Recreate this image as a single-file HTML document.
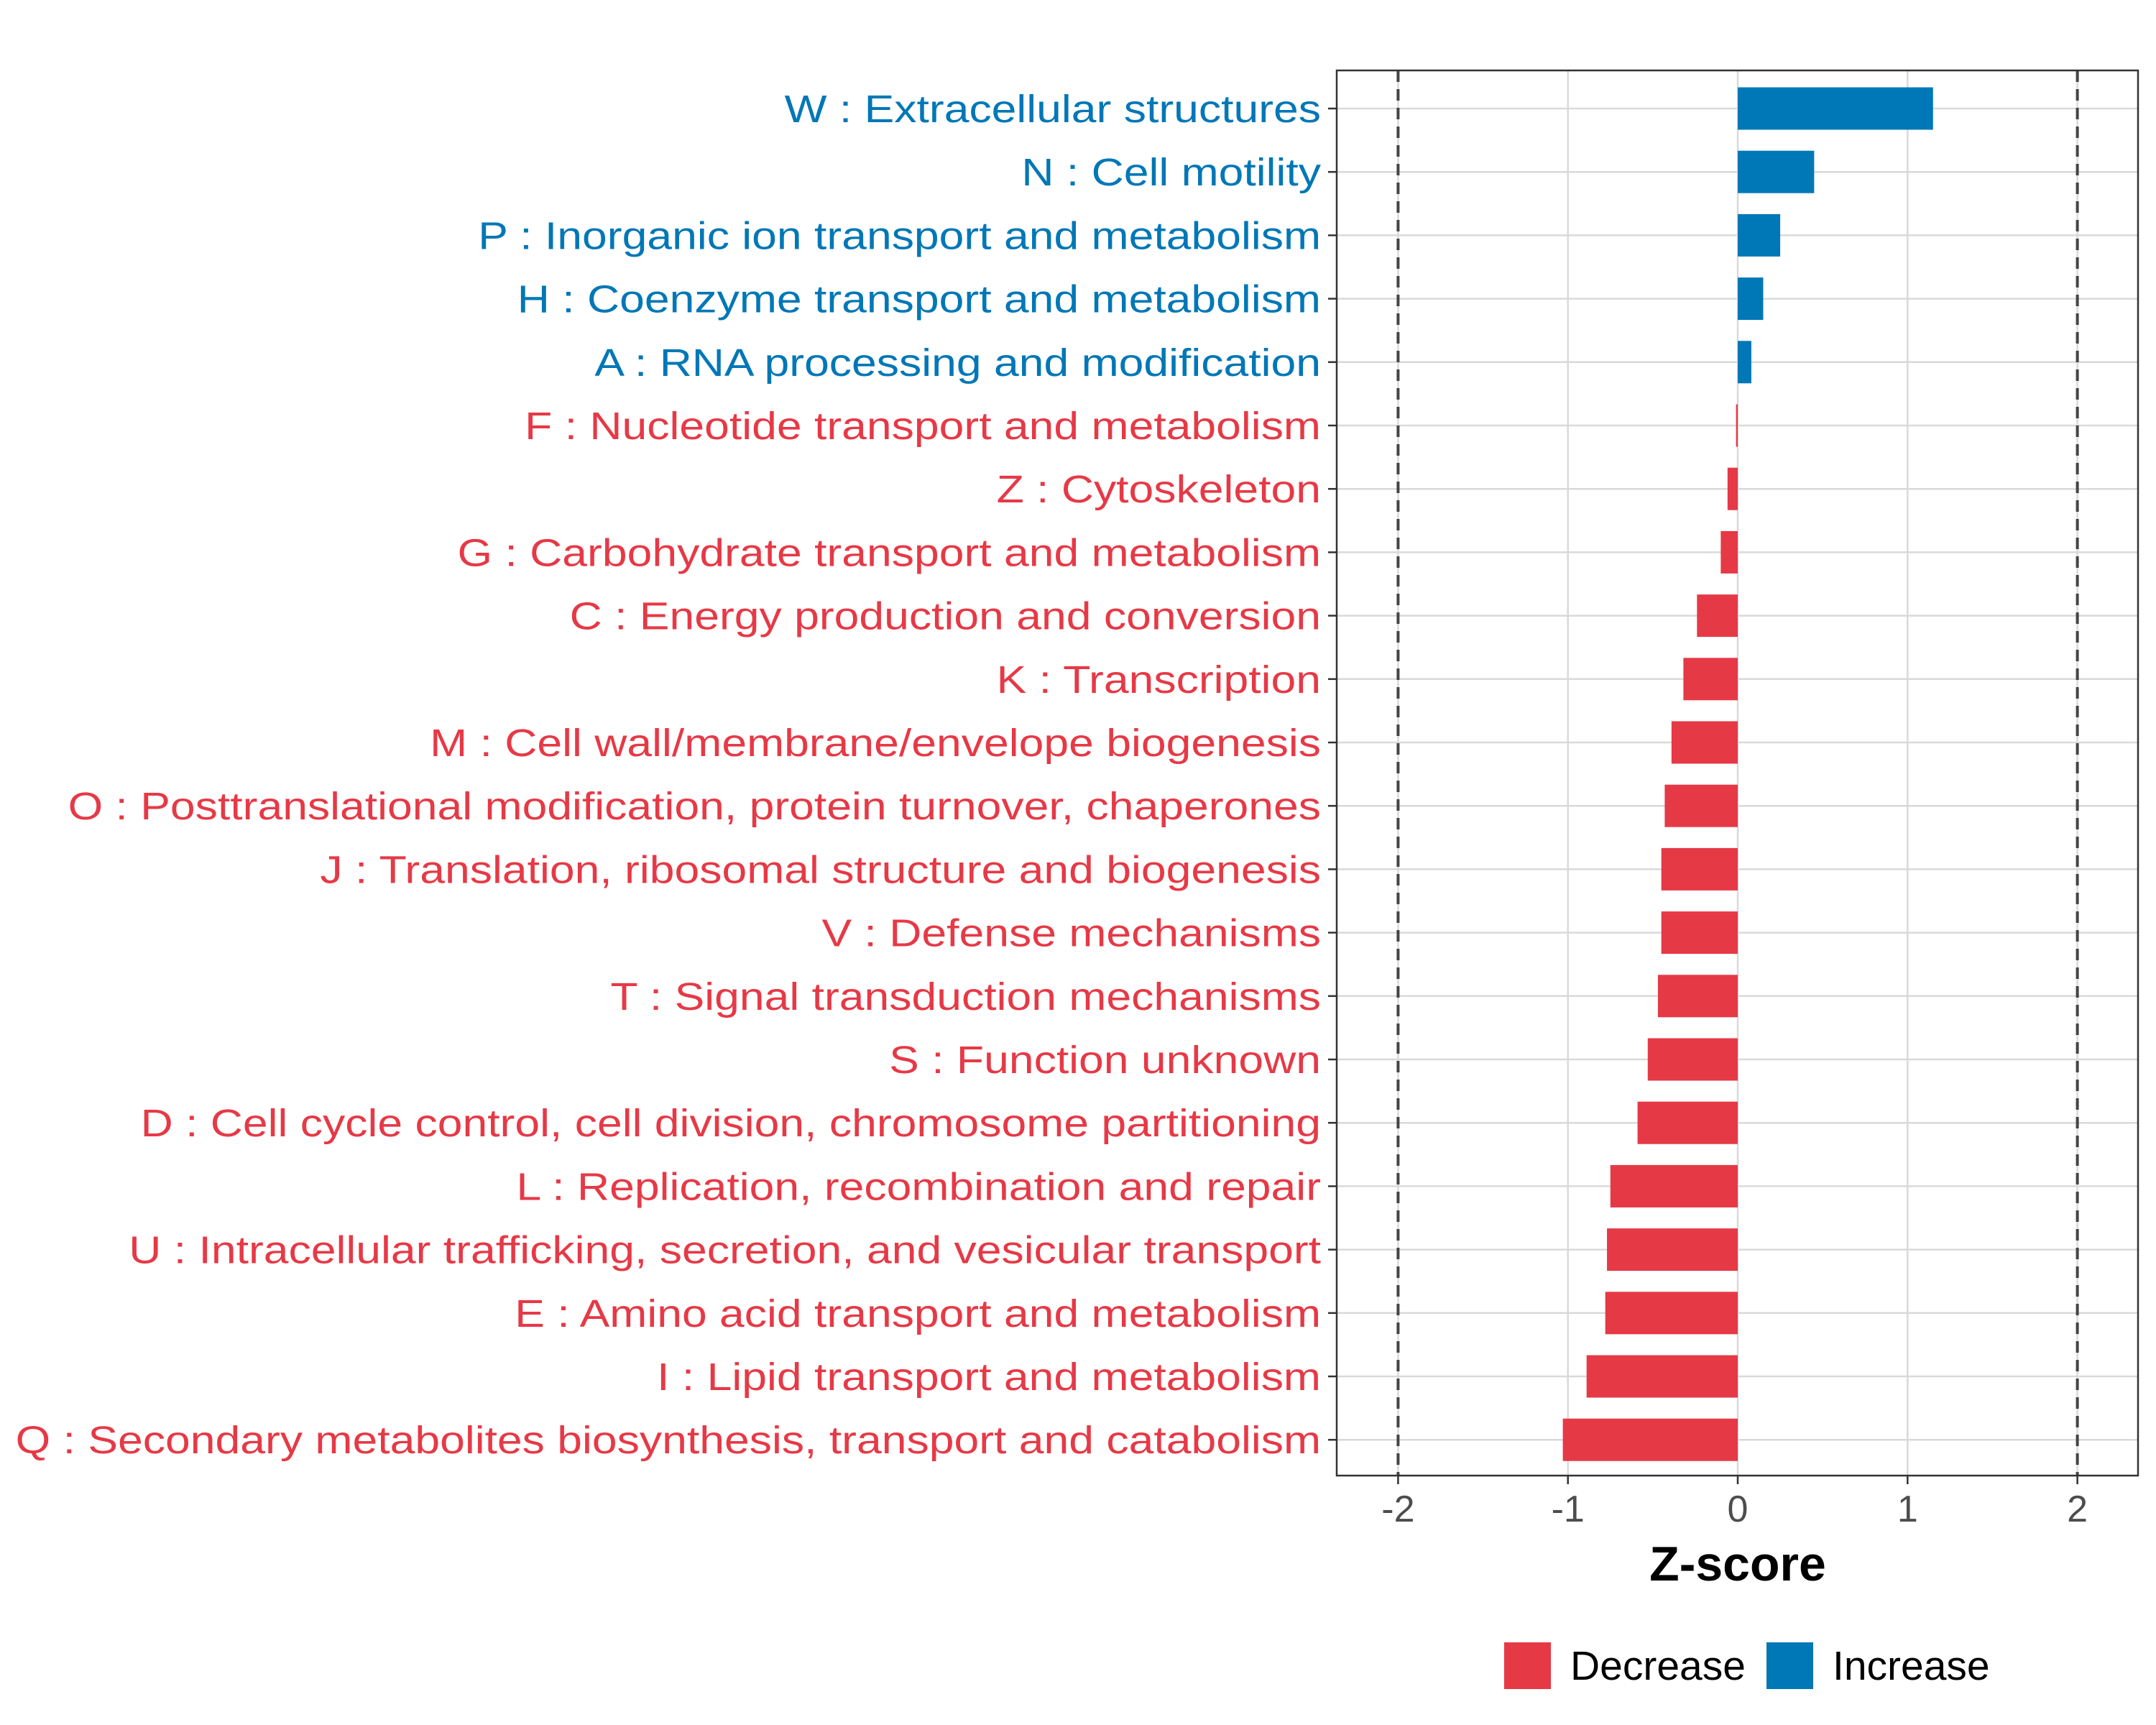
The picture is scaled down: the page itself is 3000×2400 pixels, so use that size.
<!DOCTYPE html>
<html><head><meta charset="utf-8"><style>
html,body{margin:0;padding:0;background:#fff}
svg{display:block}
text{font-family:"Liberation Sans",sans-serif}
</style></head><body>
<svg id="chart" width="3000" height="2400" viewBox="0 0 3000 2400" xmlns="http://www.w3.org/2000/svg">
<g id="grid"></g>
<g id="bars"></g>
<g id="ylabels"></g>
<g id="xaxis"></g>
<text x="2418" y="2199" font-size="68" font-weight="bold" text-anchor="middle">Z-score</text>
<g>
<rect x="2093" y="2285" width="65" height="65" fill="#E63946"/>
<text x="2185" y="2337" font-size="57" fill="#000">Decrease</text>
<rect x="2458" y="2285" width="65" height="65" fill="#0077B6"/>
<text x="2550" y="2337" font-size="57" fill="#000">Increase</text>
</g>
</svg>
<script>
const categories = ["W : Extracellular structures","N : Cell motility","P : Inorganic ion transport and metabolism","H : Coenzyme transport and metabolism","A : RNA processing and modification","F : Nucleotide transport and metabolism","Z : Cytoskeleton","G : Carbohydrate transport and metabolism","C : Energy production and conversion","K : Transcription","M : Cell wall/membrane/envelope biogenesis","O : Posttranslational modification, protein turnover, chaperones","J : Translation, ribosomal structure and biogenesis","V : Defense mechanisms","T : Signal transduction mechanisms","S : Function unknown","D : Cell cycle control, cell division, chromosome partitioning","L : Replication, recombination and repair","U : Intracellular trafficking, secretion, and vesicular transport","E : Amino acid transport and metabolism","I : Lipid transport and metabolism","Q : Secondary metabolites biosynthesis, transport and catabolism"];
const zscores = [1.15,0.45,0.25,0.15,0.08,-0.01,-0.06,-0.1,-0.24,-0.32,-0.39,-0.43,-0.45,-0.45,-0.47,-0.53,-0.59,-0.75,-0.77,-0.78,-0.89,-1.03];
const xTicks = [-2,-1,0,1,2];
const xTickLabels = ["-2","-1","0","1","2"];
const thresholds = [-2,2];

const NS="http://www.w3.org/2000/svg";
const P={l:1860,r:2975,t:98,b:2053};
const x=v=>2418+v*236.3;
const y=i=>151+i*88.2;
const RED="#E63946",BLUE="#0077B6";
function mk(tag,attrs,parent){const e=document.createElementNS(NS,tag);for(const k in attrs)e.setAttribute(k,attrs[k]);parent.appendChild(e);return e;}
const grid=document.getElementById('grid'),bars=document.getElementById('bars'),yl=document.getElementById('ylabels'),xa=document.getElementById('xaxis');
xTicks.forEach((t,i)=>{const l=mk('line',{x1:x(t),x2:x(t),y1:P.t,y2:P.b,stroke:'#d9d9d9','stroke-width':2.5},grid);


const tk=mk('line',{x1:x(t),x2:x(t),y1:P.b,y2:P.b+12,stroke:'#333','stroke-width':2.5},xa);


const tl=mk('text',{x:x(t),y:P.b+64,'font-size':52,'text-anchor':'middle',fill:'#4d4d4d'},xa);
tl.textContent=xTickLabels[i];

});
categories.forEach((c,i)=>{const l=mk('line',{x1:P.l,x2:P.r,y1:y(i),y2:y(i),stroke:'#d9d9d9','stroke-width':2.5},grid);


const v=zscores[i],col=v>=0?BLUE:RED;
const r=mk('rect',{x:Math.min(x(0),x(v)),y:y(i)-29.5,width:Math.max(Math.abs(x(v)-x(0)),1.5),height:59,fill:col},bars);


const tk=mk('line',{x1:P.l-12,x2:P.l,y1:y(i),y2:y(i),stroke:'#333','stroke-width':2.5},yl);


const t=mk('text',{x:P.l-22,y:y(i)+19,'font-size':54,'text-anchor':'end',fill:col},yl);
t.textContent=c;


const w=t.getComputedTextLength();
t.setAttribute('textLength',(w*1.157).toFixed(1));
t.setAttribute('lengthAdjust','spacingAndGlyphs');});
thresholds.forEach(t=>{const l=mk('line',{x1:x(t),x2:x(t),y1:P.t,y2:P.b,stroke:'#444','stroke-width':4,'stroke-dasharray':'16,10'},bars);

});
const f=mk('rect',{x:P.l,y:P.t,width:P.r-P.l,height:P.b-P.t,fill:'none',stroke:'#333','stroke-width':2.5},bars);


</script>
</body></html>
